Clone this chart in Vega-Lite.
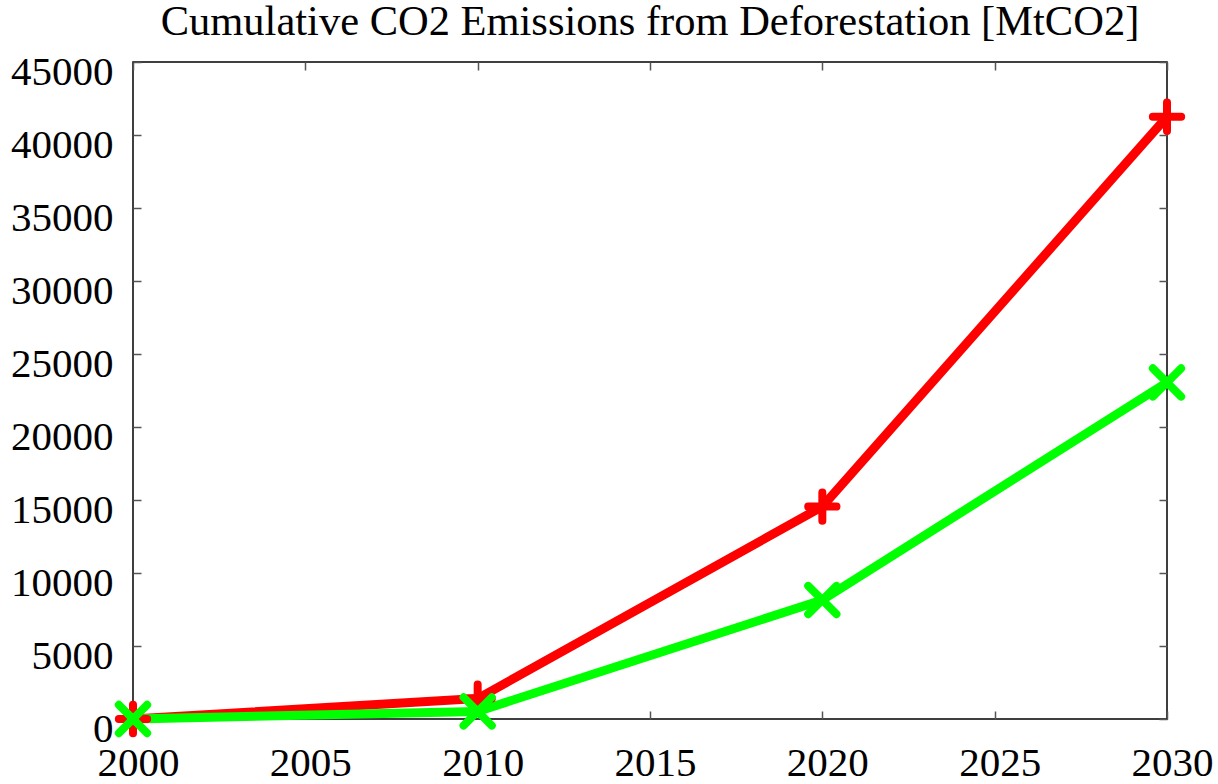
{
  "$schema": "https://vega.github.io/schema/vega-lite/v6.json",
  "autosize": {"type": "none"},
  "width": 1034,
  "height": 657,
  "padding": {"left": 133, "top": 62, "right": 51, "bottom": 65},
  "background": "white",
  "config": {
    "view": {"stroke": "black", "strokeWidth": 1.5},
    "font": "Liberation Serif"
  },
  "title": {
    "text": "Cumulative CO2 Emissions from Deforestation [MtCO2]",
    "font": "Liberation Serif",
    "fontSize": 42.5,
    "fontWeight": "normal",
    "color": "black",
    "anchor": "middle",
    "frame": "group",
    "baseline": "alphabetic",
    "offset": -26
  },
  "data": {
    "values": [
      {"year": 2000, "value": 0, "series": "s1"},
      {"year": 2010, "value": 1400, "series": "s1"},
      {"year": 2020, "value": 14550, "series": "s1"},
      {"year": 2030, "value": 41250, "series": "s1"},
      {"year": 2000, "value": 0, "series": "s2"},
      {"year": 2010, "value": 520, "series": "s2"},
      {"year": 2020, "value": 8150, "series": "s2"},
      {"year": 2030, "value": 23050, "series": "s2"}
    ]
  },
  "encoding": {
    "color": {
      "field": "series", "type": "nominal",
      "scale": {"domain": ["s1", "s2"], "range": ["#ff0000", "#00ff00"]},
      "legend": null
    }
  },
  "layer": [
    {
      "mark": {"type": "line", "strokeWidth": 9, "strokeCap": "round", "strokeJoin": "round"},
      "encoding": {
        "x": {
          "field": "year", "type": "quantitative",
          "scale": {"domain": [2000, 2030], "nice": false, "zero": false},
          "axis": {
            "orient": "bottom", "title": null, "values": [2000, 2005, 2010, 2015, 2020, 2025, 2030],
            "format": "d", "grid": false, "domain": false,
            "tickSize": -8, "tickColor": "#555", "tickWidth": 1.5,
            "labelFont": "Liberation Serif", "labelFontSize": 41, "labelColor": "black",
            "labelPadding": 32, "labelFlush": false, "labelOverlap": false, "labelOffset": 5
          }
        },
        "y": {
          "field": "value", "type": "quantitative",
          "scale": {"domain": [0, 45000], "nice": false},
          "axis": {
            "orient": "left", "title": null, "values": [0, 5000, 10000, 15000, 20000, 25000, 30000, 35000, 40000, 45000],
            "format": "d", "grid": false, "domain": false,
            "tickSize": -8, "tickColor": "#555", "tickWidth": 1.5,
            "labelFont": "Liberation Serif", "labelFontSize": 41, "labelColor": "black",
            "labelPadding": 28, "labelFlush": false, "labelOverlap": false, "labelOffset": 10
          }
        }
      }
    },
    {
      "mark": {"type": "point", "filled": false, "strokeWidth": 8, "strokeCap": "round", "opacity": 1, "size": 800},
      "encoding": {
        "x": {"field": "year", "type": "quantitative", "scale": {"domain": [2000, 2030], "nice": false, "zero": false}, "axis": null},
        "y": {"field": "value", "type": "quantitative", "scale": {"domain": [0, 45000], "nice": false}, "axis": null},
        "shape": {
          "field": "series", "type": "nominal",
          "scale": {"domain": ["s1", "s2"], "range": ["M-1,0L1,0M0,-1L0,1", "M-1,-1L1,1M-1,1L1,-1"]},
          "legend": null
        }
      }
    },
    {
      "mark": {"type": "point", "opacity": 0},
      "encoding": {
        "x": {
          "field": "year", "type": "quantitative",
          "scale": {"domain": [2000, 2030], "nice": false, "zero": false},
          "axis": {"orient": "top", "title": null, "values": [2000, 2005, 2010, 2015, 2020, 2025, 2030], "labels": false, "domain": false, "grid": false, "tickSize": -8, "tickColor": "#555", "tickWidth": 1.5, "minExtent": 0, "maxExtent": 0, "offset": 0}
        },
        "y": {
          "field": "value", "type": "quantitative",
          "scale": {"domain": [0, 45000], "nice": false},
          "axis": {"orient": "right", "title": null, "values": [0, 5000, 10000, 15000, 20000, 25000, 30000, 35000, 40000, 45000], "labels": false, "domain": false, "grid": false, "tickSize": -8, "tickColor": "#555", "tickWidth": 1.5, "minExtent": 0, "maxExtent": 0}
        }
      }
    }
  ],
  "resolve": {"axis": {"x": "independent", "y": "independent"}}
}
